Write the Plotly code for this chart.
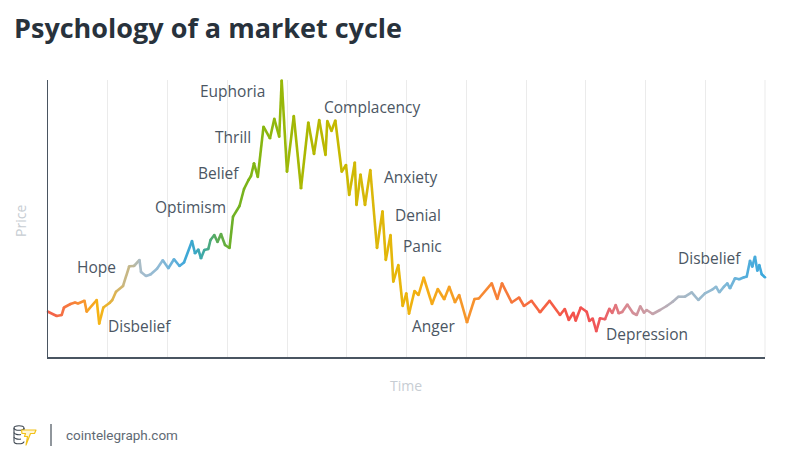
import base64
import plotly.graph_objects as go

# ---- data (time units are arbitrary, price is relative) ----
time = [0, 8.7, 13.7, 16, 22.5, 27, 30, 36.5, 38.7, 48.7, 51.2, 55.3, 61.5, 64.3, 68, 75,
        81.2, 86, 91.5, 93, 98, 102.5, 109, 114.8, 120.3, 126, 131.5, 136, 144, 147, 150.3,
        153, 156.3, 160.3, 162.5, 166.3, 169.5, 173, 177, 181.5, 185, 191.5, 196, 200.5, 203,
        206, 209.8, 215.5, 222, 226.3, 231.2, 233.7, 239, 245.8, 253, 260.3, 266, 271.2,
        277.5, 279.3, 283.5, 287.3, 293.7, 298, 301.2, 306.8, 308.5, 312.5, 317, 322.3, 329,
        334.5, 337.8, 342.5, 345.3, 350.3, 354.7, 358.3, 361, 366.5, 370.5, 375.7, 384, 389.8,
        396.2, 401.2, 407, 411.2, 419, 426.5, 430.8, 443.7, 449.3, 454, 463.7, 471, 476, 483.5,
        492, 501.5, 512, 516.8, 520.8, 525.3, 527.7, 532.7, 538.7, 541.3, 544.7, 548.3, 552,
        557, 561.3, 564.2, 567.7, 570.7, 574.2, 579.3, 585, 588.7, 592.3, 596, 598.7, 604.7,
        612, 618.7, 624.7, 630.3, 637, 643.7, 650.3, 657, 664.7, 668, 671.3, 676, 679.3, 682,
        687, 691.3, 696, 698.7, 702, 704.3, 707, 709.3, 711.3, 713.7, 717]
price = [45.3, 41, 42, 49.5, 53, 54.5, 53.5, 56.3, 45.3, 57, 33.3, 49.5, 54, 57, 65.3, 71,
         90.7, 91, 97, 85, 81, 82.5, 88.2, 96.7, 88.7, 97.7, 91, 94.5, 116, 103.7, 107.5,
         98.7, 107, 108, 117, 122, 115, 123, 112, 109, 140.3, 151, 168, 177, 181,
         193.7, 180, 230.3, 218.7, 238.2, 220.3, 276.5, 185.3, 241, 168.7, 234.5, 203, 237,
         202, 236, 226, 236.5, 185.3, 192, 162, 194.5, 152, 182.5, 152, 187, 109,
         145.7, 97, 122, 75.3, 92, 51, 63.7, 43.3, 66, 62, 79.5, 53, 68,
         57.7, 70.3, 54.8, 62, 34.7, 58, 58.5, 73.7, 58, 73.7, 54.5, 59.5, 51, 56.3,
         44.7, 56.2, 42, 48, 37, 44.3, 36.3, 49.5, 45.3, 36, 38.5, 25.8, 38.7,
         37.8, 48.2, 44, 52, 43.7, 45, 52.5, 44, 42, 50.7, 44.3, 47, 43,
         47, 51, 55.3, 60.3, 60.3, 64.7, 57, 63.7, 67.7, 70.3, 64.7, 70.3, 73.7, 68.7,
         78.7, 77.7, 79.7, 80.3, 96.3, 90.3, 100.3, 86.3, 92, 82.7, 79.7]

phase_labels = ["Euphoria", "Complacency", "Thrill", "Belief", "Optimism", "Anxiety",
                "Denial", "Panic", "Hope", "Disbelief", "Anger", "Depression", "Disbelief"]
label_time = [184.5, 324.5, 185, 170, 142.5, 362.5, 370, 374, 48.5, 91.5, 385.5, 599, 661]
label_price = [266, 250, 220, 184, 150, 180, 142, 111, 90, 31, 31, 23, 99]

# ---- style: colour stops along the time axis ----
stops = [(0, "#f25f4c"), (22, "#f77a3e"), (38, "#f89a2c"), (51, "#f6b512"), (64, "#e2b244"),
         (75, "#ccb67a"), (86, "#bcb89c"), (93, "#a6bccc"), (112, "#8ebad6"), (137, "#40a8dc"),
         (147, "#3aa8c8"), (157, "#40a99a"), (167, "#58aa62"), (182, "#6cb02a"), (202, "#7eb515"),
         (232, "#95b80a"), (262, "#b0b800"), (292, "#c8b900"), (322, "#d9b80a"), (352, "#e9b60a"),
         (372, "#f4b012"), (402, "#f6a022"), (432, "#f78c32"), (482, "#f66b40"), (522, "#f4524a"),
         (552, "#f0565a"), (577, "#d98790"), (602, "#c9a0a8"), (632, "#aab8c4"), (672, "#8bbbd6"),
         (697, "#55aedc"), (717, "#3aa8dc")]


def hex2rgb(h):
    h = h.lstrip("#")
    return tuple(int(h[i:i + 2], 16) for i in (0, 2, 4))


def colour_at(t):
    for (t0, c0), (t1, c1) in zip(stops[:-1], stops[1:]):
        if t0 <= t <= t1:
            f = 0 if t1 == t0 else (t - t0) / (t1 - t0)
            a, b = hex2rgb(c0), hex2rgb(c1)
            r = [round(a[k] + (b[k] - a[k]) * f) for k in range(3)]
            return "rgb(%d,%d,%d)" % tuple(r)
    return stops[-1][1] if t > stops[-1][0] else stops[0][1]


LW = 2.6
fig = go.Figure()
for i in range(len(time) - 1):
    fig.add_trace(go.Scatter(
        x=[time[i], time[i + 1]], y=[price[i], price[i + 1]], mode="lines",
        line=dict(color=colour_at((time[i] + time[i + 1]) / 2), width=LW),
        hoverinfo="skip", showlegend=False, cliponaxis=False))
fig.add_trace(go.Scatter(
    x=time, y=price, mode="markers",
    marker=dict(size=LW, color=[colour_at(t) for t in time], line=dict(width=0)),
    hoverinfo="skip", showlegend=False, cliponaxis=False))

label_font = dict(family="Open Sans", size=15.5, color="#4b5663")
annotations = [dict(x=tx, y=py, xref="x", yref="y", text=txt, showarrow=False,
                    xanchor="center", yanchor="middle", font=label_font)
               for txt, tx, py in zip(phase_labels, label_time, label_price)]

# plot area geometry (pixels)
L, R, T, B = 48, 765, 80, 357
W, H = R - L, B - T


def px(xp):
    return (xp - L) / W


def py_(yp):
    return (B - yp) / H


axis_title_font = dict(family="Open Sans", size=14, color="#c7cdd3")
annotations += [
    dict(x=px(20), y=py_(221), xref="paper", yref="paper", text="Price", textangle=-90,
         showarrow=False, xanchor="center", yanchor="middle", font=axis_title_font),
    dict(x=px(406), y=py_(385), xref="paper", yref="paper", text="Time",
         showarrow=False, xanchor="center", yanchor="middle", font=axis_title_font),
    dict(x=px(64), y=py_(435), xref="paper", yref="paper", text="cointelegraph.com",
         showarrow=False, xanchor="left", yanchor="middle",
         font=dict(family="Roboto", size=13.5, color="#5f6a74")),
]

logo_svg = """<svg xmlns='http://www.w3.org/2000/svg' viewBox='0 0 24 22' width='24' height='22'>
<g fill='none' stroke='#3f4852' stroke-width='1.1'>
<ellipse cx='6' cy='4' rx='5' ry='2.3'/>
<path d='M1 4 v13.5 M11 4 v3'/>
<path d='M1 8.5 a5 2.3 0 0 0 7 2'/>
<path d='M1 13 a5 2.3 0 0 0 7 2'/>
<path d='M1 17.5 a5 2.3 0 0 0 10 0'/>
</g>
<path d='M8.5 6 L23 6 L21.5 9.5 L17.5 9.5 L13 21 L14.5 12.5 L11.5 12.5 L12.5 9.5 L9 9.5 Z'
 fill='#fff6d6' stroke='#f2c21b' stroke-width='1.2' stroke-linejoin='round'/>
</svg>"""
logo_uri = "data:image/svg+xml;base64," + base64.b64encode(logo_svg.encode()).decode()

fig.update_layout(
    width=785, height=464,
    margin=dict(l=L, r=785 - R, t=T, b=464 - B),
    paper_bgcolor="white", plot_bgcolor="white",
    title=dict(text="Psychology of a market cycle", x=14 / 785, xanchor="left",
               xref="container", y=1 - 29 / 464, yref="container", yanchor="middle",
               font=dict(family="Open Sans", size=27, color="#28323c", weight=700)),
    xaxis=dict(range=[0, 717], tick0=0, dtick=59.75, showticklabels=False, ticks="",
               showgrid=True, gridcolor="#ebebeb", gridwidth=1, zeroline=False,
               showline=True, linecolor="#4a5561", linewidth=2, fixedrange=True),
    yaxis=dict(range=[0, 277], showticklabels=False, ticks="", showgrid=False,
               zeroline=False, showline=True, linecolor="#4a5561", linewidth=1.5,
               fixedrange=True),
    annotations=annotations,
    shapes=[dict(type="line", xref="paper", yref="paper", x0=px(51), x1=px(51),
                 y0=py_(424), y1=py_(446), line=dict(color="#6b737b", width=1.5)),
            dict(type="line", xref="paper", yref="paper", x0=1, x1=1, y0=0, y1=1,
                 layer="below", line=dict(color="#ebebeb", width=1))],
    images=[dict(source=logo_uri, xref="paper", yref="paper", x=px(13), y=py_(424),
                 sizex=24 / W, sizey=22 / H, xanchor="left", yanchor="top",
                 sizing="stretch", layer="above")],
    showlegend=False,
)

fig.write_html("out.html", config={"staticPlot": True},
               post_script="document.body.style.margin='0';document.body.style.overflow='hidden';")
